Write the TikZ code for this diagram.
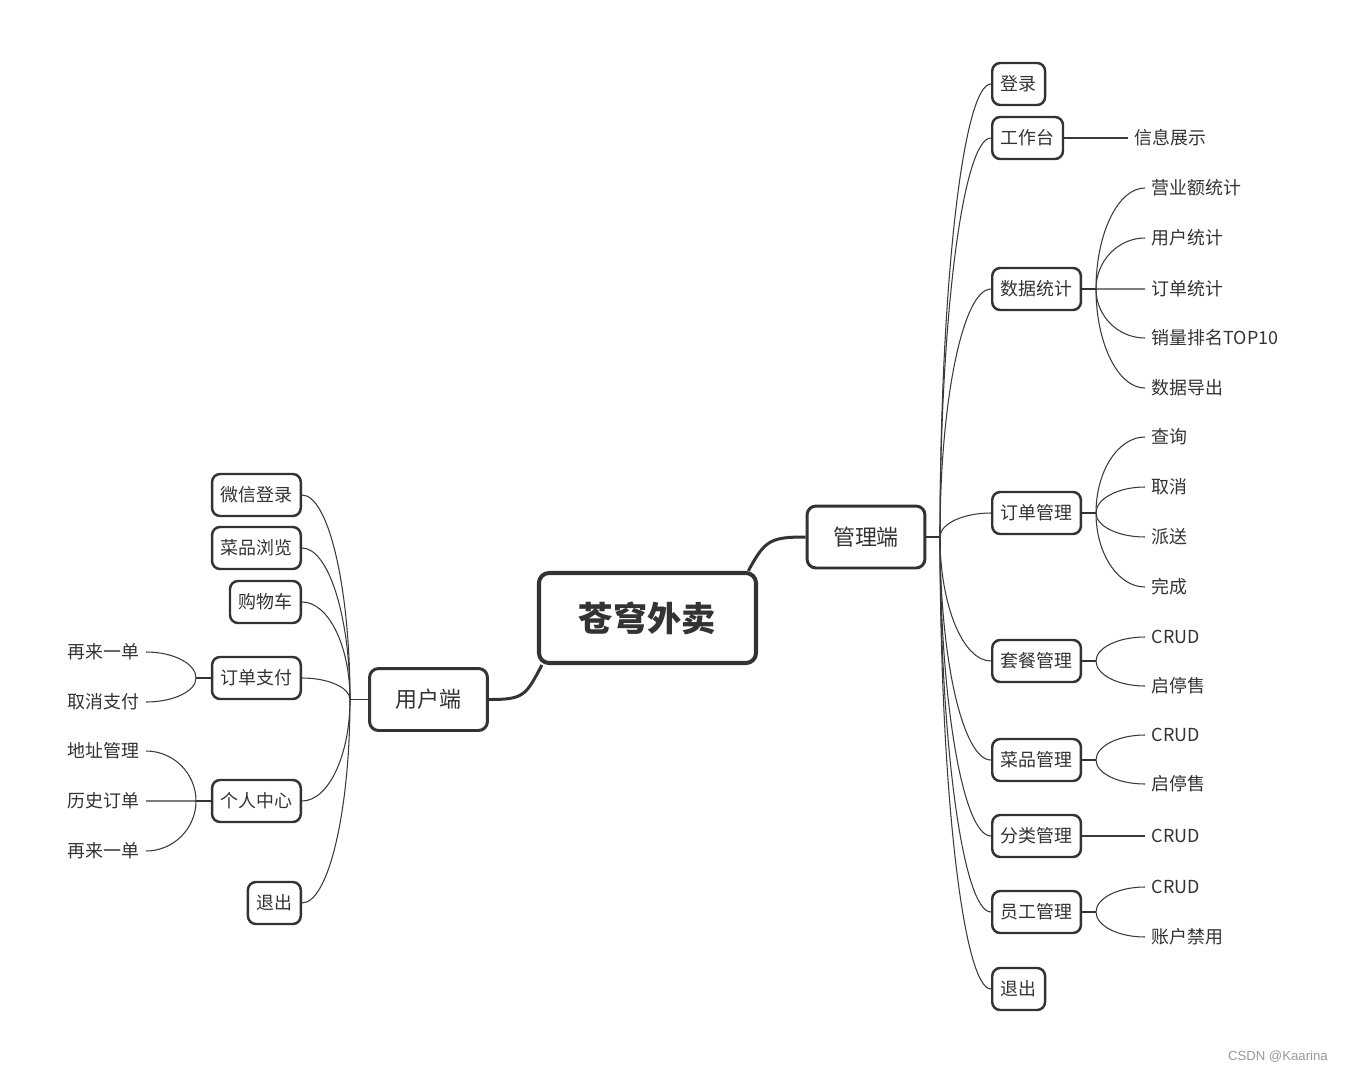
\documentclass[tikz,border=0pt]{standalone}
\usepackage{fontspec}
\setmainfont{Noto Sans CJK SC}
\newfontfamily\markfont{Liberation Sans}
\usepackage{xcolor}
\usepackage{tikz}
\usetikzlibrary{positioning,calc}

\definecolor{ink}{HTML}{333333}
\definecolor{wire}{HTML}{3A3A3A}

\tikzset{
  topic/.style={draw=ink, line width=2.3pt, rounded corners=0.2cm, text=ink,
    inner xsep=0.8cm, minimum height=1.8cm, font=\fontsize{19.5}{22}\selectfont\bfseries},
  side/.style={draw=ink, line width=1.7pt, rounded corners=0.18cm, text=ink,
    inner xsep=0.52cm, minimum height=1.24cm, font=\fontsize{12.5}{15}\selectfont},
  item/.style={draw=ink, line width=1.4pt, rounded corners=0.16cm, text=ink,
    inner xsep=0.17cm, minimum height=0.84cm, font=\fontsize{10.2}{12}\selectfont},
  leaf/.style={text=ink, inner xsep=0.13cm, font=\fontsize{10.2}{12}\selectfont},
  bough/.style={draw=ink, line width=1.7pt},
  stub/.style={draw=ink, line width=1.1pt},
  twig/.style={draw=wire, line width=0.6pt},
}

\begin{document}
\begin{tikzpicture}[x=0.02cm, y=-0.02cm]
    \path[fill=white, use as bounding box] (0,0) rectangle (1347,1072);

    % Centre
    \node[topic] (root) at (647.5,618) {苍穹外卖};
    \node[side] (mgr) at (866,537) {管理端};
    \node[side] (usr) at (428.5,699.5) {用户端};
    \draw[bough] (root.25) .. controls +(62:0.7cm) and +(-0.7cm,0) .. (mgr.west);
    \draw[bough] (root.204) .. controls +(242:0.7cm) and +(0.7cm,0) .. (usr.east);

    % Admin side
    \node[item, anchor=west] (login) at (991,84) {登录};
    \node[item, anchor=west] (desk) at (991,138) {工作台};
    \node[item, anchor=west] (stat) at (991,289) {数据统计};
    \node[item, anchor=west] (order) at (991,513) {订单管理};
    \node[item, anchor=west] (combo) at (991,661) {套餐管理};
    \node[item, anchor=west] (dish) at (991,760) {菜品管理};
    \node[item, anchor=west] (cat) at (991,836) {分类管理};
    \node[item, anchor=west] (staff) at (991,912) {员工管理};
    \node[item, anchor=west] (mquit) at (991,989) {退出};
    \coordinate (mhub) at (940,537);
    \draw[stub] (mgr.east) -- (mhub);
    \foreach \n in {login,desk,stat,order,combo,dish,cat,staff,mquit}
      \draw[twig] (mhub) .. controls ($(mhub)!0.55!(mhub |- \n.west)$) and ($(\n.west)!0.55!(mhub |- \n.west)$) .. (\n.west);

    % Admin leaves
    \node[leaf, anchor=west] (info) at (1128,138) {信息展示};
    \draw[twig] (desk.east) -- (info.west);

    \node[leaf, anchor=west] (s1) at (1145,188) {营业额统计};
    \node[leaf, anchor=west] (s2) at (1145,238) {用户统计};
    \node[leaf, anchor=west] (s3) at (1145,289) {订单统计};
    \node[leaf, anchor=west] (s4) at (1145,338) {销量排名TOP10};
    \node[leaf, anchor=west] (s5) at (1145,388) {数据导出};
    \coordinate (shub) at (1096,289);
    \draw[stub] (stat.east) -- (shub);
    \foreach \n in {s1,s2,s3,s4,s5}
      \draw[twig] (shub) .. controls ($(shub)!0.55!(shub |- \n.west)$) and ($(\n.west)!0.55!(shub |- \n.west)$) .. (\n.west);

    \node[leaf, anchor=west] (o1) at (1145,437) {查询};
    \node[leaf, anchor=west] (o2) at (1145,487) {取消};
    \node[leaf, anchor=west] (o3) at (1145,537) {派送};
    \node[leaf, anchor=west] (o4) at (1145,587) {完成};
    \coordinate (ohub) at (1096,513);
    \draw[stub] (order.east) -- (ohub);
    \foreach \n in {o1,o2,o3,o4}
      \draw[twig] (ohub) .. controls ($(ohub)!0.55!(ohub |- \n.west)$) and ($(\n.west)!0.55!(ohub |- \n.west)$) .. (\n.west);

    \node[leaf, anchor=west] (c1) at (1145,637) {CRUD};
    \node[leaf, anchor=west] (c2) at (1145,686) {启停售};
    \coordinate (chub) at (1096,661);
    \draw[stub] (combo.east) -- (chub);
    \foreach \n in {c1,c2}
      \draw[twig] (chub) .. controls ($(chub)!0.55!(chub |- \n.west)$) and ($(\n.west)!0.55!(chub |- \n.west)$) .. (\n.west);

    \node[leaf, anchor=west] (d1) at (1145,735) {CRUD};
    \node[leaf, anchor=west] (d2) at (1145,784) {启停售};
    \coordinate (dhub) at (1096,760);
    \draw[stub] (dish.east) -- (dhub);
    \foreach \n in {d1,d2}
      \draw[twig] (dhub) .. controls ($(dhub)!0.55!(dhub |- \n.west)$) and ($(\n.west)!0.55!(dhub |- \n.west)$) .. (\n.west);

    \node[leaf, anchor=west] (k1) at (1145,836) {CRUD};
    \draw[twig] (cat.east) -- (k1.west);

    \node[leaf, anchor=west] (e1) at (1145,887) {CRUD};
    \node[leaf, anchor=west] (e2) at (1145,937) {账户禁用};
    \coordinate (ehub) at (1096,912);
    \draw[stub] (staff.east) -- (ehub);
    \foreach \n in {e1,e2}
      \draw[twig] (ehub) .. controls ($(ehub)!0.55!(ehub |- \n.west)$) and ($(\n.west)!0.55!(ehub |- \n.west)$) .. (\n.west);

    % User side
    \node[item, anchor=east] (wx) at (302,495) {微信登录};
    \node[item, anchor=east] (browse) at (302,548) {菜品浏览};
    \node[item, anchor=east] (cart) at (302,602) {购物车};
    \node[item, anchor=east] (pay) at (302,678) {订单支付};
    \node[item, anchor=east] (me) at (302,801) {个人中心};
    \node[item, anchor=east] (uquit) at (302,903) {退出};
    \coordinate (uhub) at (350,699.5);
    \draw[stub] (usr.west) -- (uhub);
    \foreach \n in {wx,browse,cart,pay,me,uquit}
      \draw[twig] (uhub) .. controls ($(uhub)!0.55!(uhub |- \n.east)$) and ($(\n.east)!0.55!(uhub |- \n.east)$) .. (\n.east);

    % User leaves
    \node[leaf, anchor=east] (p1) at (146,652) {再来一单};
    \node[leaf, anchor=east] (p2) at (146,702) {取消支付};
    \coordinate (phub) at (196,678);
    \draw[stub] (pay.west) -- (phub);
    \foreach \n in {p1,p2}
      \draw[twig] (phub) .. controls ($(phub)!0.55!(phub |- \n.east)$) and ($(\n.east)!0.55!(phub |- \n.east)$) .. (\n.east);

    \node[leaf, anchor=east] (m1) at (146,751) {地址管理};
    \node[leaf, anchor=east] (m2) at (146,801) {历史订单};
    \node[leaf, anchor=east] (m3) at (146,851) {再来一单};
    \coordinate (mehub) at (196,801);
    \draw[stub] (me.west) -- (mehub);
    \foreach \n in {m1,m2,m3}
      \draw[twig] (mehub) .. controls ($(mehub)!0.55!(mehub |- \n.east)$) and ($(\n.east)!0.55!(mehub |- \n.east)$) .. (\n.east);

    % Watermark
    \node[anchor=east, text=black!40, font=\markfont\fontsize{7.5}{9}\selectfont] (mark) at (1334,1057) {CSDN @Kaarina};
\end{tikzpicture}
\end{document}
